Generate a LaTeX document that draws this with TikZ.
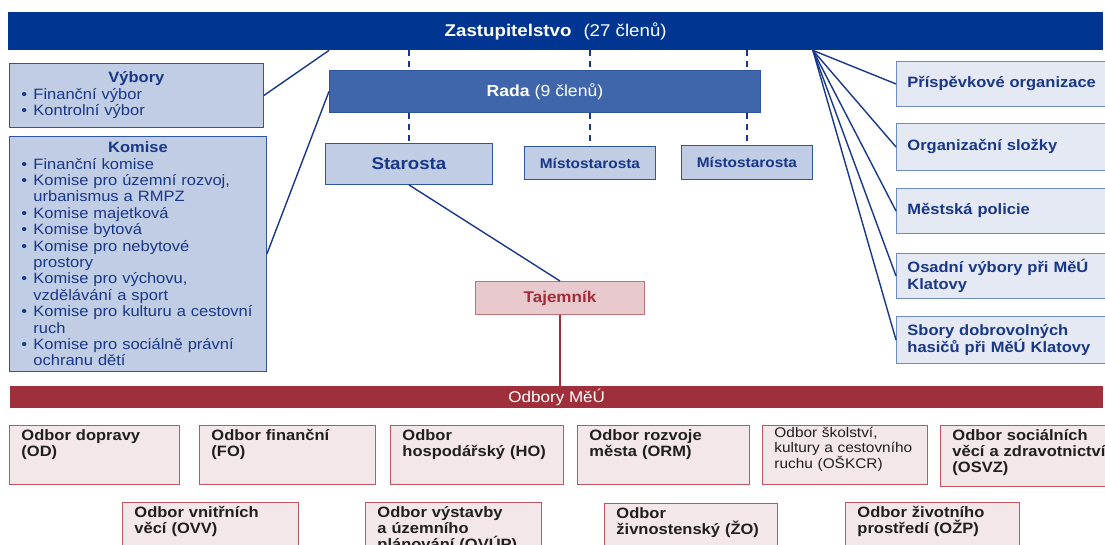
\documentclass[tikz,border=0pt]{standalone}
\usepackage{fontspec}
\setmainfont{Liberation Sans}[FakeStretch=1.1]
\usetikzlibrary{calc}

\definecolor{zastblue}{RGB}{0,53,145}
\definecolor{radablue}{RGB}{63,102,170}
\definecolor{lightblue}{RGB}{192,205,228}
\definecolor{paleblue}{RGB}{228,233,243}
\definecolor{edgeblue}{RGB}{47,85,160}
\definecolor{softedge}{RGB}{110,140,195}
\definecolor{textblue}{RGB}{25,55,135}
\definecolor{linkblue}{RGB}{25,55,140}
\definecolor{odborred}{RGB}{158,47,59}
\definecolor{tajfill}{RGB}{232,201,205}
\definecolor{tajedge}{RGB}{196,110,120}
\definecolor{tajtext}{RGB}{160,45,55}
\definecolor{deptfill}{RGB}{244,231,233}
\definecolor{deptedge}{RGB}{192,85,95}

\newcommand{\bul}{\makebox[12pt][l]{\textbullet}}
\newcommand{\ind}{\hspace*{12pt}}

\tikzset{
    bar/.style={anchor=north west, inner sep=0pt, text=white},
    role/.style={anchor=north west, draw=edgeblue, fill=lightblue, line width=0.9pt,
        inner sep=0pt, text=textblue},
    listbox/.style={role, text width=#1, inner xsep=12pt,
        font=\fontsize{15}{16.4}\selectfont},
    orgbox/.style={anchor=north west, draw=softedge, fill=paleblue, line width=0.9pt,
        text width=190pt, inner xsep=11pt, inner ysep=0pt, align=left, text=textblue,
        font=\fontsize{15}{16.5}\selectfont\bfseries},
    dept/.style={anchor=north west, draw=deptedge, fill=deptfill, line width=0.9pt,
        text width=#1, align=left, inner xsep=12pt, inner ysep=4pt,
        text height=11pt, text depth=40pt, text=black!88,
        font=\fontsize{15}{16}\selectfont\bfseries},
    link/.style={draw=linkblue, line width=1.4pt},
    dashlink/.style={link, dash pattern=on 6pt off 5pt},
}

\begin{document}
\begin{tikzpicture}[x=1pt, y=-1pt]
    \useasboundingbox (0,0) rectangle (1105,545);
    \clip (0,0) rectangle (1105,545);

    % top of the hierarchy
    \node[bar, fill=zastblue, minimum width=1095pt, minimum height=38pt,
        font=\fontsize{17}{20}\selectfont] at (8,12) (zast)
        {\textbf{Zastupitelstvo}\hspace{12pt}(27 členů)};
    \node[bar, fill=radablue, draw=edgeblue, line width=0.9pt, minimum width=431pt,
        minimum height=42pt, font=\fontsize{16}{19}\selectfont] at (329,70) (rada)
        {\textbf{Rada} (9 členů)};

    \node[role, minimum width=167pt, minimum height=41pt,
        font=\fontsize{17}{20}\selectfont\bfseries] at (325,143) (starosta) {Starosta};
    \node[role, minimum width=131pt, minimum height=33pt,
        font=\fontsize{14}{17}\selectfont\bfseries] at (524,146) (mist1) {Místostarosta};
    \node[role, minimum width=131pt, minimum height=34pt,
        font=\fontsize{14}{17}\selectfont\bfseries] at (681,145) (mist2) {Místostarosta};

    \node[anchor=north west, draw=tajedge, fill=tajfill, line width=0.9pt, inner sep=0pt,
        minimum width=169pt, minimum height=33pt, text=tajtext,
        font=\fontsize{15.5}{18}\selectfont\bfseries] at (475,281) (tajemnik) {Tajemník};

    % committees
    \node[listbox=230pt, minimum height=64pt] at (9,63) (vybory)
        {{\centering\textbf{Výbory}\par}\raggedright
        \bul Finanční výbor\\
        \bul Kontrolní výbor};
    \node[listbox=233pt, minimum height=235pt] at (9,136) (komise)
        {{\centering\textbf{Komise}\par}\raggedright
        \bul Finanční komise\\
        \bul Komise pro územní rozvoj,\\
        \ind urbanismus a RMPZ\\
        \bul Komise majetková\\
        \bul Komise bytová\\
        \bul Komise pro nebytové\\
        \ind prostory\\
        \bul Komise pro výchovu,\\
        \ind vzdělávání a sport\\
        \bul Komise pro kulturu a cestovní\\
        \ind ruch\\
        \bul Komise pro sociálně právní\\
        \ind ochranu dětí};

    % organisations on the right
    \node[orgbox, minimum height=45pt] at (896,61) (prisp) {Příspěvkové organizace};
    \node[orgbox, minimum height=47pt] at (896,123) (orgsl) {Organizační složky};
    \node[orgbox, minimum height=45pt] at (896,188) (policie) {Městská policie};
    \node[orgbox, minimum height=45pt] at (896,253) (osadni) {Osadní výbory při MěÚ\\Klatovy};
    \node[orgbox, minimum height=47pt] at (896,316) (sbory) {Sbory dobrovolných\\hasičů při MěÚ Klatovy};

    % departments
    \node[bar, fill=odborred, minimum width=1093pt, minimum height=22pt,
        font=\fontsize{15.5}{18}\selectfont] at (10,386) (odbory) {Odbory MěÚ};

    \node[dept=146pt] at (9,425) (od) {Odbor dopravy\\(OD)};
    \node[dept=152pt] at (199,425) (fo) {Odbor finanční\\(FO)};
    \node[dept=149pt] at (390,425) (ho) {Odbor\\hospodářský (HO)};
    \node[dept=148pt] at (577,425) (orm) {Odbor rozvoje\\města (ORM)};
    \node[dept=141pt, text height=8pt, text depth=43pt,
        font=\fontsize{14}{15.5}\selectfont] at (762,425) (oskcr)
        {Odbor školství,\\kultury a cestovního\\ruchu (OŠKCR)};
    \node[dept=160pt, text depth=42pt] at (940,425) (osvz)
        {Odbor sociálních\\věcí a zdravotnictví\\(OSVZ)};

    \node[dept=152pt, text depth=42pt] at (122,502) (ovv) {Odbor vnitřních\\věcí (OVV)};
    \node[dept=152pt, text depth=42pt] at (365,502) (ovup) {Odbor výstavby\\a územního\\plánování (OVÚP)};
    \node[dept=149pt, text depth=42pt] at (604,503) (zo) {Odbor\\živnostenský (ŽO)};
    \node[dept=150pt, text depth=42pt] at (845,502) (ozp) {Odbor životního\\prostředí (OŽP)};

    % connectors
    \draw[link] (rada.west |- zast.south) -- (vybory.east);
    \draw[link] (rada.west) -- (komise.east);
    \foreach \n in {starosta, mist1, mist2} {
        \draw[dashlink] (\n.north |- zast.south) -- (\n.north |- rada.north);
        \draw[dashlink] (\n.north |- rada.south) -- (\n.north);
    }
    \coordinate (hub) at (mist2.east |- zast.south);
    \foreach \n in {prisp, orgsl, policie, osadni, sbory}
        \draw[link] (hub) -- (\n.west);
    \draw[link] (starosta.south) -- (tajemnik.north);
    \draw[draw=tajtext, line width=1.4pt] (tajemnik.south) -- (tajemnik.south |- odbory.north);
\end{tikzpicture}
\end{document}
